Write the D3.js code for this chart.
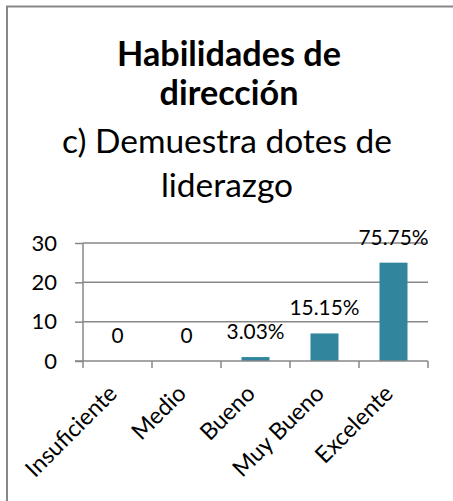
<!DOCTYPE html>
<html>
<head>
<meta charset="utf-8">
<script src="https://cdn.jsdelivr.net/npm/d3@7"></script>
<style>
  html, body { margin: 0; padding: 0; background: #fff; }
  svg { display: block; }
  text { font-family: Lato, "Noto Sans", sans-serif; fill: #000; }
</style>
</head>
<body>
<svg id="chart" width="453" height="501"></svg>
<script>
const categories = ["Insuficiente", "Medio", "Bueno", "Muy Bueno", "Excelente"];
const values = [0, 0, 1, 7, 25];
const dataLabels = ["0", "0", "3.03%", "15.15%", "75.75%"];
const yTicks = [0, 10, 20, 30];
const titleBold = ["Habilidades de", "dirección"];
const titleRegular = ["c) Demuestra dotes de", "liderazgo"];

const W = 453, H = 501;
const svg = d3.select("#chart");
const gridColor = "#878787";
const barColor = "#31859C";

// fit a text element's font size so its rendered width equals target
function fit(sel, target) {
  const base = +sel.attr("font-size");
  const w = sel.node().getComputedTextLength();
  sel.attr("font-size", (base * target / w).toFixed(2));
}

// outer chart border
svg.append("rect")
  .attr("x", 7).attr("y", 6.5)
  .attr("width", W + 20).attr("height", H + 20)
  .attr("fill", "none").attr("stroke", gridColor).attr("stroke-width", 2);

// title
const titleX = 229;
const t1 = svg.append("text").attr("x", titleX).attr("y", 66).attr("text-anchor", "middle")
  .attr("font-size", 30).attr("font-weight", "bold").text(titleBold[0]);
fit(t1, 224);
const t2 = svg.append("text").attr("x", titleX).attr("y", 105).attr("text-anchor", "middle")
  .attr("font-size", t1.attr("font-size")).attr("font-weight", "bold").text(titleBold[1]);
const t3 = svg.append("text").attr("x", 227).attr("y", 153).attr("text-anchor", "middle")
  .attr("font-size", 30).text(titleRegular[0]);
fit(t3, 330);
svg.append("text").attr("x", 227).attr("y", 197).attr("text-anchor", "middle")
  .attr("font-size", t3.attr("font-size")).text(titleRegular[1]);

// plot area
const x0 = 83, x1 = 428, yTop = 243, yBot = 361;
const xb = d3.scaleBand().domain(categories).range([x0, x1]);
const y = d3.scaleLinear().domain([0, 30]).range([yBot, yTop]);

// gridlines
svg.append("g").selectAll("line").data(yTicks.filter(d => d > 0)).join("line")
  .attr("x1", x0).attr("x2", x1)
  .attr("y1", d => y(d)).attr("y2", d => y(d))
  .attr("stroke", gridColor).attr("stroke-width", 1.5);

// bars
const bw = 28;
svg.append("g").selectAll("rect").data(values).join("rect")
  .attr("x", (d, i) => xb(categories[i]) + xb.bandwidth() / 2 - bw / 2)
  .attr("width", bw)
  .attr("y", d => y(d))
  .attr("height", d => yBot - y(d))
  .attr("fill", barColor);

// y axis
const yAxis = d3.axisLeft(y).tickValues(yTicks).tickSize(8).tickPadding(18);
const gy = svg.append("g").attr("transform", `translate(${x0},0)`).call(yAxis);
gy.select(".domain").attr("stroke", gridColor).attr("stroke-width", 1.5).attr("d", `M0,${yTop}V${yBot}`);
gy.selectAll(".tick line").attr("stroke", gridColor).attr("stroke-width", 1.5);
gy.selectAll(".tick text").attr("font-size", 22).attr("font-family", "Lato").attr("fill", "#000");

// x axis
const gx = svg.append("g").attr("transform", `translate(0,${yBot})`);
gx.append("line").attr("x1", x0 - 8).attr("x2", x1).attr("y1", 0).attr("y2", 0)
  .attr("stroke", gridColor).attr("stroke-width", 1.5);
const bounds = categories.map(c => xb(c)).concat([x1]);
gx.selectAll("line.t").data(bounds).join("line").attr("class", "t")
  .attr("x1", d => d).attr("x2", d => d).attr("y1", 0).attr("y2", 7)
  .attr("stroke", gridColor).attr("stroke-width", 1.5);
const catLabels = gx.selectAll("text").data(categories).join("text")
  .attr("transform", d => `translate(${xb(d) + xb.bandwidth() / 2 + 1},${34}) rotate(-45)`)
  .attr("text-anchor", "end")
  .attr("font-size", 19)
  .text(d => d);
// size so "Insuficiente" spans like the reference
const ins = catLabels.filter(d => d === categories[0]);
const catSize = 19 * 118 / ins.node().getComputedTextLength();
catLabels.attr("font-size", catSize.toFixed(2));

// data labels
const dl = svg.append("g").selectAll("text").data(values).join("text")
  .attr("x", (d, i) => xb(categories[i]) + xb.bandwidth() / 2)
  .attr("y", d => y(d) - 18)
  .attr("text-anchor", "middle")
  .attr("font-size", 21)
  .text((d, i) => dataLabels[i]);
const last = dl.filter((d, i) => i === 4);
const dlSize = 21 * 70 / last.node().getComputedTextLength();
dl.attr("font-size", dlSize.toFixed(2));
</script>
</body>
</html>
